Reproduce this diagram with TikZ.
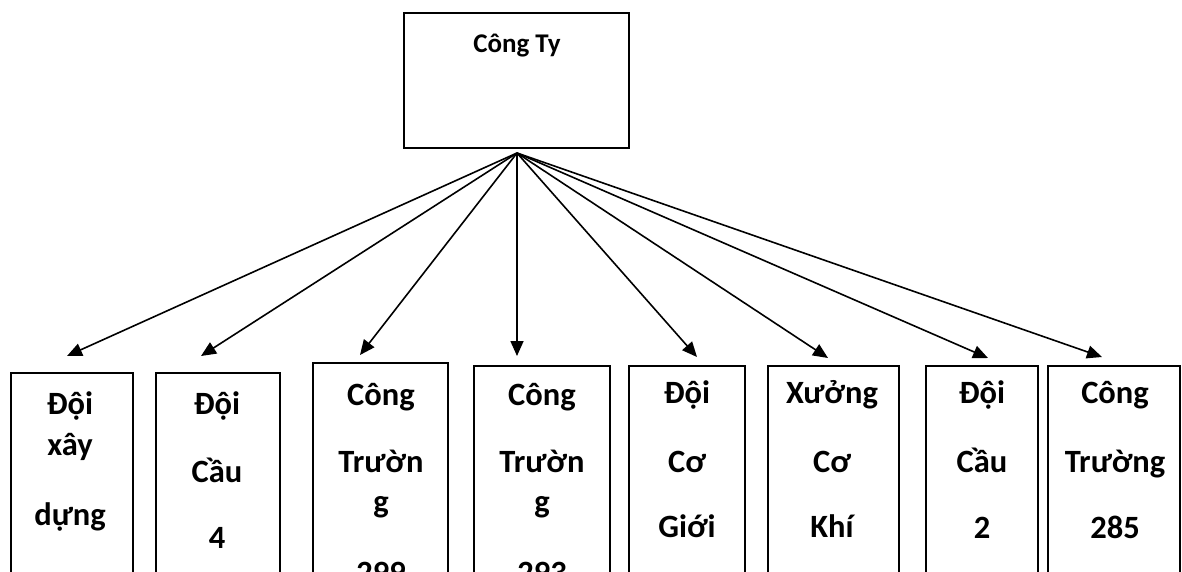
\documentclass[tikz,border=0pt]{standalone}
\usepackage{fontspec}
\setmainfont{Carlito}
\usetikzlibrary{arrows.meta}
\begin{document}
\begin{tikzpicture}[x=1pt,y=-1pt,
  topbox/.style={draw,line width=1.9pt,anchor=north west,inner sep=0pt,outer sep=0pt,minimum width=225pt,minimum height=135pt},
  unitbox/.style={draw,line width=1.9pt,anchor=north west,inner sep=0pt,outer sep=0pt,minimum height=260pt},
  lbl/.style={anchor=base,inner sep=0pt,font=\fontsize{32.5pt}{38pt}\selectfont\bfseries},
  toplbl/.style={anchor=base,inner sep=0pt,font=\fontsize{27pt}{32pt}\selectfont\bfseries},
  link/.style={line width=1.6pt,-{Triangle[length=15pt,width=13pt]}}]
\clip (0,0) rectangle (1182,571);
\fill[white] (0,0) rectangle (1182,571);
% top box
\node[topbox] (top) at (404,13) {};
\node[toplbl] (toptext) at (517,52) {Công Ty};
\coordinate (src) at (517,153);
% bottom boxes
\node[unitbox,minimum width=122pt] (b1) at (11,373) {};
\node[unitbox,minimum width=124pt] (b2) at (156,373) {};
\node[unitbox,minimum width=135pt] (b3) at (313,363) {};
\node[unitbox,minimum width=136pt] (b4) at (474,366) {};
\node[unitbox,minimum width=116pt] (b5) at (629,366) {};
\node[unitbox,minimum width=131pt] (b6) at (768,366) {};
\node[unitbox,minimum width=112pt] (b7) at (926,366) {};
\node[unitbox,minimum width=132pt] (b8) at (1048,366) {};
% texts
\node[lbl] (b1a) at (70,414) {Đội};
\node[lbl] (b1b) at (70,455) {xây};
\node[lbl] (b1c) at (70,525) {dựng};
\node[lbl] (b2a) at (217,414) {Đội};
\node[lbl] (b2b) at (217,482) {Cầu};
\node[lbl] (b2c) at (217,548) {4};
\node[lbl] (b3a) at (381,405) {Công};
\node[lbl] (b3b) at (381,472) {Trườn};
\node[lbl] (b3c) at (381,512) {g};
\node[lbl] (b3d) at (381,583) {299};
\node[lbl] (b4a) at (542,405) {Công};
\node[lbl] (b4b) at (542,472) {Trườn};
\node[lbl] (b4c) at (542,512) {g};
\node[lbl] (b4d) at (542,583) {293};
\node[lbl] (b5a) at (687,403) {Đội};
\node[lbl] (b5b) at (687,472) {Cơ};
\node[lbl] (b5c) at (687,537) {Giới};
\node[lbl] (b6a) at (832,403) {Xưởng};
\node[lbl] (b6b) at (832,472) {Cơ};
\node[lbl] (b6c) at (832,537) {Khí};
\node[lbl] (b7a) at (982,403) {Đội};
\node[lbl] (b7b) at (982,472) {Cầu};
\node[lbl] (b7c) at (982,538) {2};
\node[lbl] (b8a) at (1115,403) {Công};
\node[lbl] (b8b) at (1115,472) {Trường};
\node[lbl] (b8c) at (1115,538) {285};
% arrow tips
\coordinate (t1) at (67,356);
\coordinate (t2) at (201,356);
\coordinate (t3) at (360,355);
\coordinate (t4) at (517,356);
\coordinate (t5) at (697,357);
\coordinate (t6) at (828,358);
\coordinate (t7) at (988,358);
\coordinate (t8) at (1102,357);
\foreach \t in {t1,t2,t3,t4,t5,t6,t7,t8}
  \draw[link] (src) -- (\t);
\end{tikzpicture}
\end{document}
